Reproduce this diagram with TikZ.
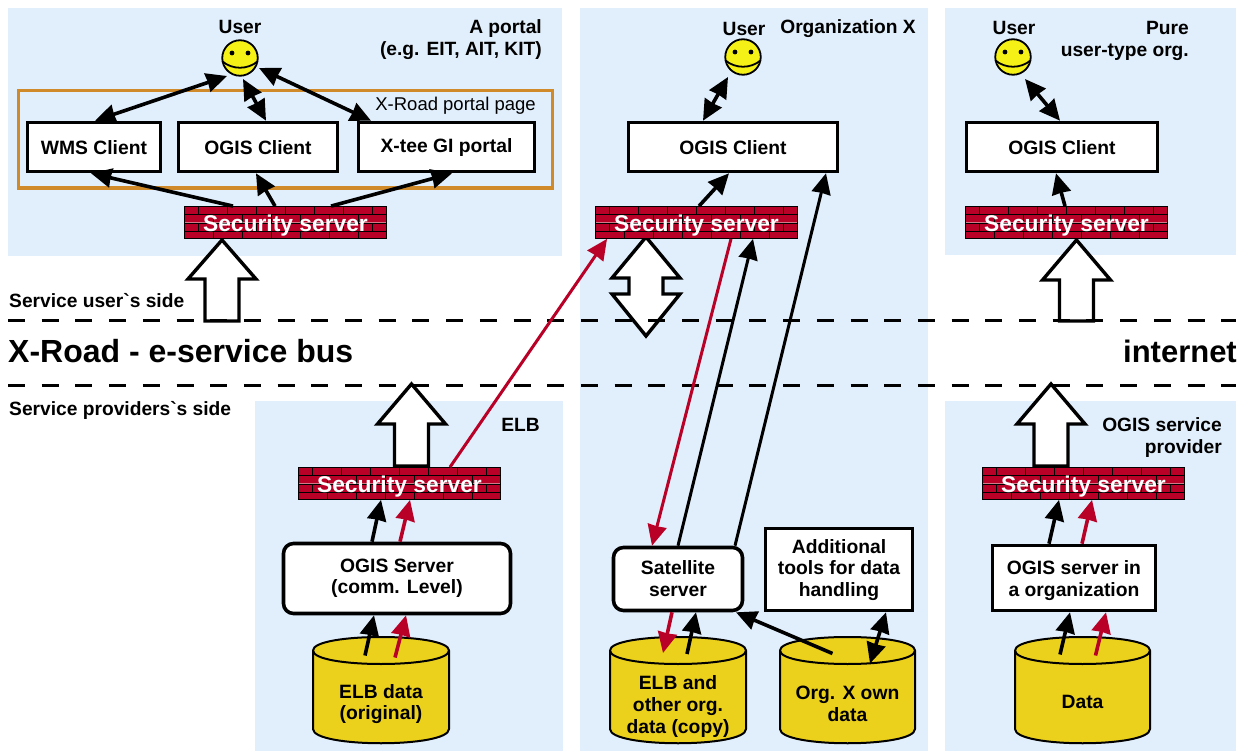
\documentclass[tikz,border=0pt]{standalone}
\usepackage{fontspec}
\setmainfont{Liberation Sans}
\usetikzlibrary{arrows.meta}
\definecolor{panelc}{HTML}{E1EEFB}
\definecolor{brickc}{HTML}{B90026}
\definecolor{dbc}{HTML}{ECD11C}
\definecolor{framec}{HTML}{D08A2A}
\definecolor{smilec}{HTML}{F5F015}
\definecolor{mortarc}{HTML}{D07A8A}
\tikzset{
  panel/.style={fill=panelc,draw=none},
  lab/.style={font=\fontsize{19.2}{22}\selectfont\bfseries,inner sep=0pt,align=center},
  rlab/.style={lab,align=right,anchor=east},
  boxn/.style={draw=black,line width=3.6pt,fill=white,inner sep=0pt,align=center,font=\fontsize{19.3}{21.5}\selectfont\bfseries},
  rboxn/.style={boxn,rounded corners=10pt},
  mortar/.style={draw=mortarc,line width=1.2pt},
  mortard/.style={draw=black,line width=.6pt},
  wall/.style={draw=black,line width=.8pt,fill=brickc,inner sep=0pt,text=white,font=\fontsize{22.8}{24}\selectfont\bfseries,
    path picture={
      \coordinate (nw) at (path picture bounding box.north west);
      \foreach \st in {mortar,mortard}{
      \foreach \r in {1,2,3}{
        \draw[\st] ([shift={(0,{\r*8.25})}]nw) -- ++(210,0);
      }
      \foreach \k in {0,...,7}{
        \draw[\st] ([shift={({14+29*\k},0)}]nw) -- ++(0,8.25);
        \draw[\st] ([shift={({14+29*\k},16.5)}]nw) -- ++(0,8.25);
        \draw[\st] ([shift={({29+29*\k},8.25)}]nw) -- ++(0,8.25);
        \draw[\st] ([shift={({29+29*\k},24.75)}]nw) -- ++(0,8.25);
      }}
    }},
  smiley/.style={circle,draw=black,line width=1.8pt,fill=smilec,minimum size=35.5pt,inner sep=0pt,
    path picture={
      \coordinate (cc) at (path picture bounding box.center);
      \fill[black] ([shift={(-8,-5)}]cc) circle (2.4pt);
      \fill[black] ([shift={(8,-5)}]cc) circle (2.4pt);
      \draw[black,line width=1.8pt] ([shift={(-18,3)}]cc) .. controls ([shift={(-8,12)}]cc) and ([shift={(8,12)}]cc) .. ([shift={(18,3)}]cc);
    }},
  dbody/.style={draw=black,line width=2pt,fill=dbc},
  dbtext/.style={lab,font=\fontsize{19.3}{21.8}\selectfont\bfseries},
  blockar/.style={draw=black,line width=3.4pt,fill=white,miter limit=10},
  busline/.style={black,line width=3pt,dash pattern=on 17pt off 16.7pt},
  conn/.style={black,line width=3.6pt},
  rconn/.style={conn,brickc},
  arh/.style={-{Stealth[length=20.5pt,width=19pt,inset=.5pt]}},
  darh/.style={{Stealth[length=20.5pt,width=19pt,inset=.5pt]}-{Stealth[length=20.5pt,width=19pt,inset=.5pt]}},
  longl/.style={line width=3pt},
}
\newcommand\bx[8][-8]{%
  \pgfmathsetmacro\cxx{(#3+#5)/2}\pgfmathsetmacro\cyy{(#4+#6)/2}%
  \pgfmathsetmacro\ww{#5-#3-3}\pgfmathsetmacro\hh{#6-#4-3}%
  \node[#7,minimum width=\ww pt,minimum height=\hh pt] (#2) at (\cxx,\cyy) {\raisebox{#1pt}[0pt][0pt]{\begin{tabular}{@{}c@{}}#8\end{tabular}}};}
\newcommand\cyl[5]{% name x1 x2 texty text
  \path[dbody] (#2,650.5) -- (#2,729) .. controls (#2,748) and (#3,748) .. (#3,729) -- (#3,650.5)
     .. controls (#3,632.5) and (#2,632.5) .. cycle;
  \draw[black,line width=2pt] (#2,650.5) .. controls (#2,668.5) and (#3,668.5) .. (#3,650.5);
  \pgfmathsetmacro\cxx{(#2+#3)/2}%
  \node[dbtext] (#1) at (\cxx,#4) {#5};}
\newcommand\upblock[5]{%
  \path[blockar] (#1,#3) -- ({#1+#2},#4) -- ({#1+17},#4) -- ({#1+17},#5) -- ({#1-17},#5) -- ({#1-17},#4) -- ({#1-#2},#4) -- cycle;}
\setlength{\tabcolsep}{0pt}
\begin{document}
\begin{tikzpicture}[x=1pt,y=-1pt]
\useasboundingbox (0,0) rectangle (1243,751);
% panels
\path[panel] (8,8) rectangle (562,256);
\path[panel] (580,8) rectangle (928,751);
\path[panel] (945,8) rectangle (1236,255);
\path[panel] (255,401) rectangle (563,751);
\path[panel] (945,401) rectangle (1236,751);
% frame
\draw[framec,line width=3.4pt] (18.5,90.5) rectangle (552.5,188);
\node[inner sep=0pt,anchor=east,font=\fontsize{18.5}{20}\selectfont] (plabel) at (536,105.5) {X-Road portal page};
% block arrows
\upblock{222}{34}{240}{279}{321}
\upblock{1076.5}{34}{240}{280}{321}
\upblock{411.5}{34}{384}{424}{466}
\upblock{1051}{34}{384}{424}{466}
\path[blockar] (646,237) -- (680,278) -- (663,278) -- (663,294) -- (680,294) -- (646,336) -- (612,294) -- (629,294) -- (629,278) -- (612,278) -- cycle;
% bus lines
\draw[busline] (8,321) -- (1236,321);
\draw[busline] (8,386) -- (1236,386);
% users
\node[smiley] (userA) at (240,58) {};
\node[smiley] (userX) at (743,57) {};
\node[smiley] (userP) at (1013,57) {};
\node[lab] (ulA) at (240,27) {User};
\node[lab] (ulX) at (744,29) {User};
\node[lab] (ulP) at (1014,28) {User};
% boxes
\bx{wms}{26}{121}{162}{173}{boxn}{WMS Client}
\bx{ogisA}{177}{121}{339}{173}{boxn}{OGIS Client}
\bx[-6]{xtee}{357}{121}{536}{173}{boxn}{X-tee GI portal}
\bx{ogisX}{627}{121}{839}{173}{boxn}{OGIS Client}
\bx{ogisP}{965}{121}{1159}{173}{boxn}{OGIS Client}
\bx[-5.5]{ogisS}{282}{542}{512}{615}{rboxn}{OGIS Server\\(comm. Level)}
\bx[-7.5]{sat}{612}{546}{744}{612}{rboxn}{Satellite\\server}
\bx[-6]{tools}{764}{527}{914}{612}{boxn}{Additional\\tools for data\\handling}
\bx[-8.5]{ogisO}{991}{544}{1157}{612}{boxn}{OGIS server in\\a organization}
% walls
\bx[-9.3]{wallA}{183}{205}{388}{240}{wall}{Security server}
\bx[-9.3]{wallX}{594}{205}{799}{240}{wall}{Security server}
\bx[-9.3]{wallP}{964}{205}{1169}{240}{wall}{Security server}
\bx[-9.3]{wallE}{297}{466}{502}{501}{wall}{Security server}
\bx[-9.3]{wallO}{981}{466}{1186}{501}{wall}{Security server}
% databases
\cyl{dbE}{313}{449}{704}{ELB data\\(original)}
\cyl{dbC}{610}{746}{706.5}{ELB and\\other org.\\data (copy)}
\cyl{dbX}{780}{915}{703.5}{Org. X own\\data}
\cyl{dbD}{1015}{1150}{701.5}{Data}
% connectors portal
\draw[conn,darh] ([shift={(-13,18)}]userA.center) -- (95,0 |- wms.north);
\draw[conn,darh] ([shift={(3,21)}]userA.center) -- (266,0 |- ogisA.north);
\draw[conn,darh] ([shift={(19,10)}]userA.center) -- (371,0 |- xtee.north);
\draw[conn,arh] (233,0 |- wallA.north) -- (91,0 |- wms.south);
\draw[conn,arh] (275,0 |- wallA.north) -- (256,0 |- ogisA.south);
\draw[conn,arh] (331,0 |- wallA.north) -- (452,0 |- xtee.south);
% org X
\draw[conn,darh] ([shift={(-15,20)}]userX.center) -- (703,0 |- ogisX.north);
\draw[conn,arh] (699,0 |- wallX.north) -- (729,0 |- ogisX.south);
\draw[conn,longl,arh] (735,0 |- sat.north) -- (826,0 |- ogisX.south);
\draw[conn,longl,arh] (678,0 |- sat.north) -- (753,0 |- wallX.south);
\draw[rconn,longl,arh] (731,0 |- wallX.south) -- (652,0 |- sat.north);
\draw[rconn,longl,arh] (450,0 |- wallE.north) -- (607,0 |- wallX.south);
\draw[rconn,arh] (672,0 |- sat.south) -- ([shift={(-15,-53.5)}]dbC.center);
\draw[conn,arh] ([shift={(9,-52.5)}]dbC.center) -- (696,0 |- sat.south);
\draw[conn,arh] ([shift={(-15,-50)}]dbX.center) -- (736,0 |- sat.south);
\draw[conn,darh] (886,0 |- tools.south) -- ([shift={(22.5,-40)}]dbX.center);
% pure
\draw[conn,darh] ([shift={(12,22)}]userP.center) -- (1060,0 |- ogisP.north);
\draw[conn,arh] (1065,0 |- wallP.north) -- (1056,0 |- ogisP.south);
% ELB
\draw[conn,arh] (372,0 |- ogisS.north) -- (381,0 |- wallE.south);
\draw[rconn,arh] (400,0 |- ogisS.north) -- (410,0 |- wallE.south);
\draw[conn,arh] ([shift={(-16,-48.5)}]dbE.center) -- (374,0 |- ogisS.south);
\draw[rconn,arh] ([shift={(14,-46.5)}]dbE.center) -- (406,0 |- ogisS.south);
% OGIS provider
\draw[conn,arh] (1049,0 |- ogisO.north) -- (1059,0 |- wallO.south);
\draw[rconn,arh] (1082,0 |- ogisO.north) -- (1092,0 |- wallO.south);
\draw[conn,arh] ([shift={(-22.5,-47)}]dbD.center) -- (1070,0 |- ogisO.south);
\draw[rconn,arh] ([shift={(13,-46)}]dbD.center) -- (1106,0 |- ogisO.south);
% labels
\node[rlab] (l1) at (542,40) {A portal\\(e.g. EIT, AIT, KIT)};
\node[lab,anchor=east] (l2) at (916,29) {Organization X};
\node[rlab] (l3) at (1189,40.5) {Pure\\user-type org.};
\node[lab,anchor=east] (l4) at (540,425) {ELB};
\node[rlab] (l5) at (1222,437.5) {OGIS service\\provider};
\node[lab,anchor=west] (l6) at (9,301) {Service user\textasciigrave s side};
\node[lab,anchor=west] (l7) at (9,410) {Service providers\textasciigrave s side};
\node[inner sep=0pt,anchor=west,font=\fontsize{32}{34}\selectfont\bfseries] (l8) at (8,351) {X-Road - e-service bus};
\node[inner sep=0pt,anchor=east,font=\fontsize{31}{34}\selectfont\bfseries] (l9) at (1237,351) {internet};
\end{tikzpicture}
\end{document}
